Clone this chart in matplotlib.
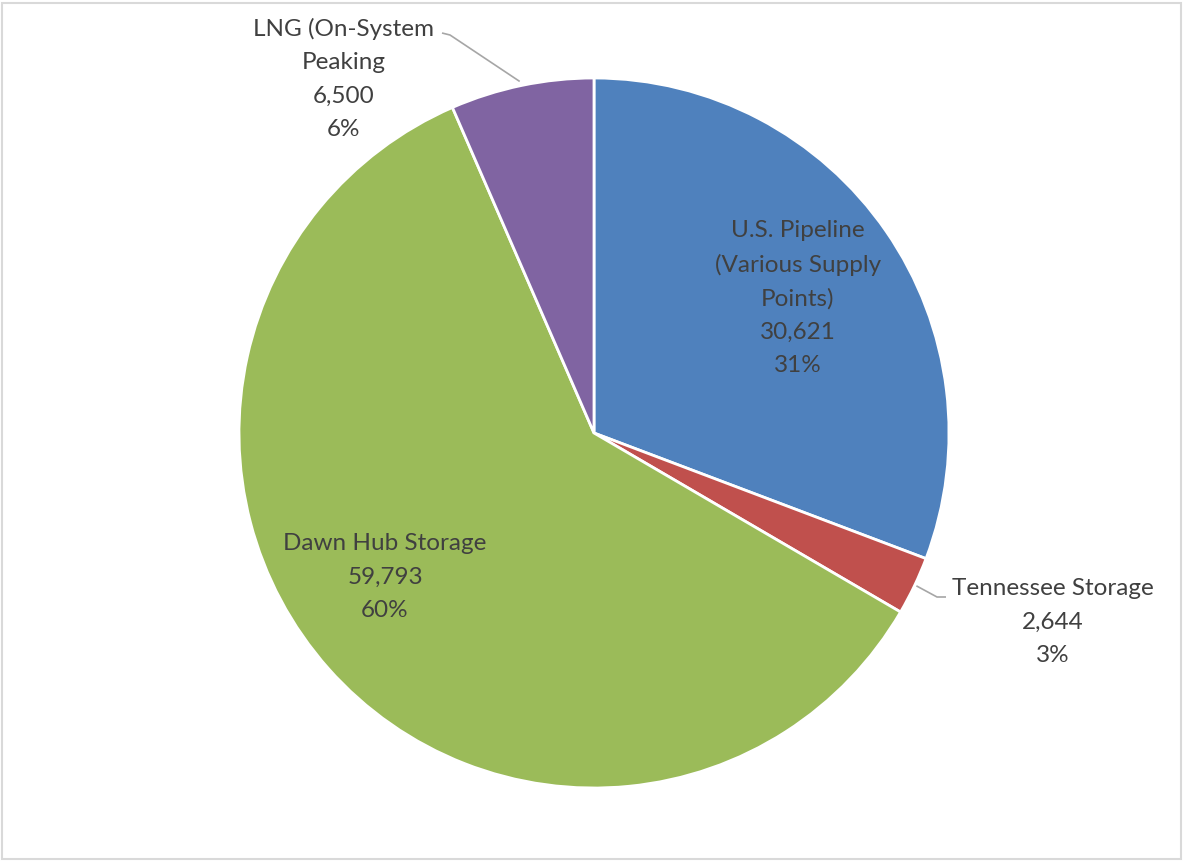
import numpy as np
import matplotlib
matplotlib.use("Agg")
import matplotlib.pyplot as plt
from matplotlib.patches import Rectangle

# Winter supply portfolio by source
categories = ["U.S. Pipeline\n(Various Supply\nPoints)", "Tennessee Storage",
              "Dawn Hub Storage", "LNG (On-System\nPeaking"]
values = [30621, 2644, 59793, 6500]
percents = [31, 3, 60, 6]
colors = ["#4F81BD", "#C0504D", "#9BBB59", "#8064A2"]

W, H = 1183, 861
fig = plt.figure(figsize=(W / 100, H / 100), dpi=100)
ax = fig.add_axes([0, 0, 1, 1])

cx, cy, r = 594, H - 433, 355
wedges, _ = ax.pie(values, colors=colors, startangle=90, counterclock=False,
                   center=(cx, cy), radius=r, frame=True,
                   wedgeprops=dict(edgecolor="white", linewidth=2))
ax.set_xlim(0, W)
ax.set_ylim(0, H)
ax.set_aspect("equal")
ax.axis("off")

total = sum(values)
labels = [f"{c}\n{v:,}\n{p}%" for c, v, p in zip(categories, values, percents)]

txt_color = "#404040"
font = dict(family="Lato", fontsize=17.5, color=txt_color, ha="center",
            va="center", linespacing=1.72)

# label anchor points (pixels, top-origin)
label_pos = [(798, 298), (1053, 622), (385, 577), (344, 79)]
for lab, (x, y) in zip(labels, label_pos):
    ax.text(x, H - y, lab, **font)

# leader lines for the two outside labels
def edge_point(i):
    cum = np.cumsum([0] + values)
    mid = (cum[i] + cum[i + 1]) / 2 / total
    ang = np.deg2rad(90 - mid * 360)
    return cx + r * np.cos(ang), cy + r * np.sin(ang)

ex, ey = edge_point(1)
ax.plot([ex + 2, 937, 946], [ey, H - 597, H - 597], color="#a6a6a6", lw=1.2,
        solid_capstyle="butt")
ex, ey = edge_point(3)
ax.plot([ex - 2, 450, 442], [ey + 4, H - 35, H - 33], color="#a6a6a6", lw=1.2,
        solid_capstyle="butt")

# chart area border
fig.patches.append(Rectangle((2 / W, 2 / H), (W - 4) / W, (H - 5) / H,
                             transform=fig.transFigure, fill=False,
                             edgecolor="#d9d9d9", linewidth=1.5))

fig.savefig("out.png", dpi=100, facecolor="white")
